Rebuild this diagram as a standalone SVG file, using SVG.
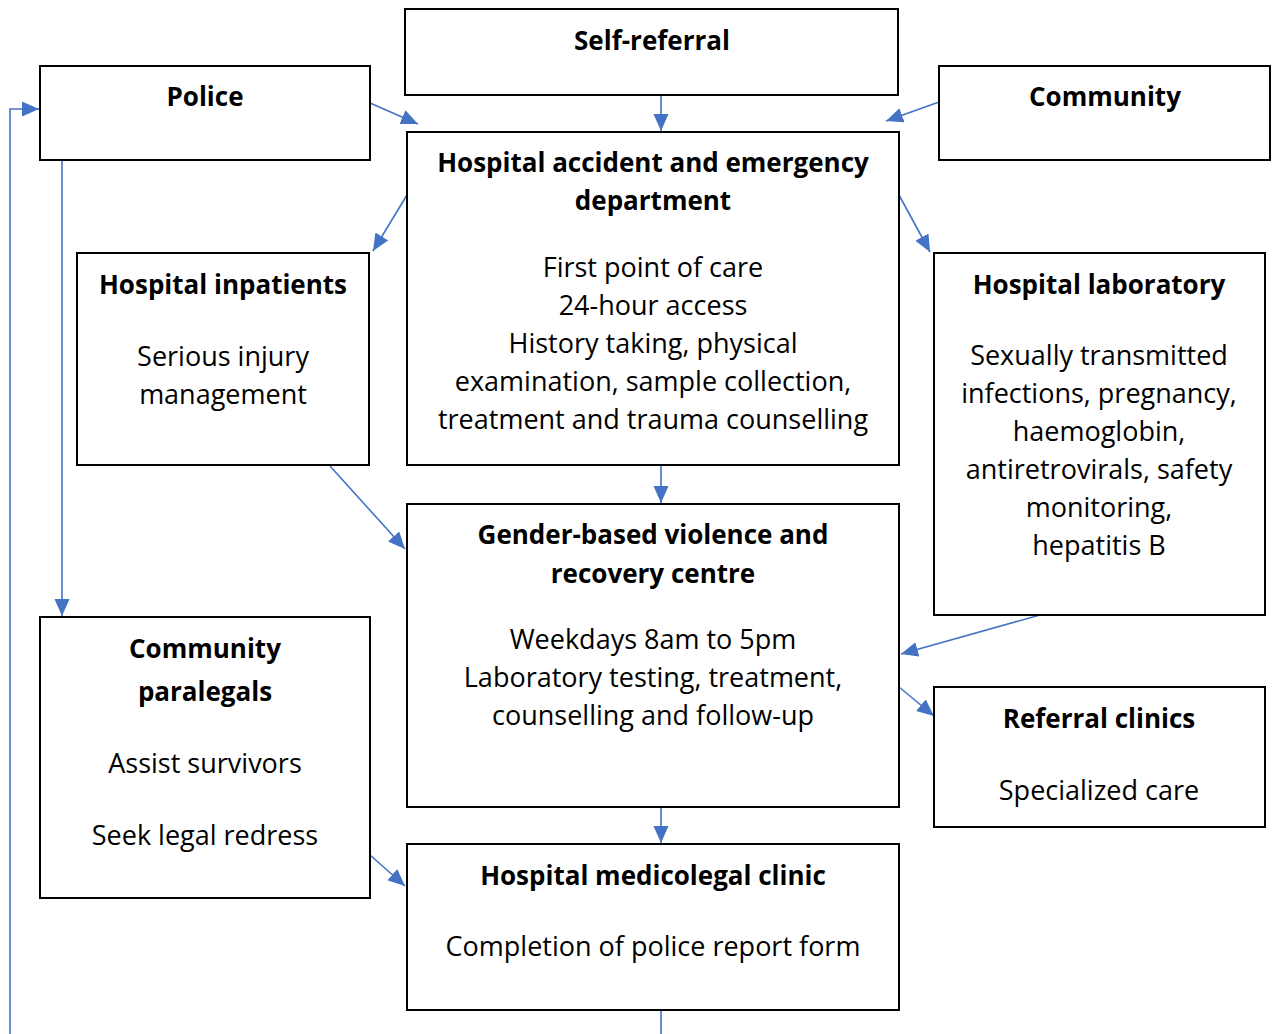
<svg xmlns="http://www.w3.org/2000/svg" width="1273" height="1034" viewBox="0 0 1273 1034">
<defs>
<style>
.box{fill:#fff;stroke:#000;stroke-width:2}
.t{font-family:"Open Sans","Liberation Sans",sans-serif;font-size:27px;fill:#000;text-anchor:middle}
.b{font-weight:bold;font-size:26px}
.c{fill:none;stroke:#4472C4;stroke-width:1.6}
</style>
<marker id="ah" markerUnits="userSpaceOnUse" markerWidth="20" markerHeight="16" refX="17" refY="7.5" orient="auto">
<path d="M0,0 L17,7.5 L0,15 Z" fill="#4472C4"/>
</marker>
</defs>
<rect width="1273" height="1034" fill="#fff"/>
<g id="connectors">
<line class="c" x1="661" y1="95" x2="661" y2="131" marker-end="url(#ah)"/>
<line class="c" x1="370" y1="103" x2="418" y2="124" marker-end="url(#ah)"/>
<line class="c" x1="939" y1="102" x2="886" y2="121" marker-end="url(#ah)"/>
<line class="c" x1="407" y1="195" x2="373" y2="251" marker-end="url(#ah)"/>
<line class="c" x1="899" y1="195" x2="930" y2="252" marker-end="url(#ah)"/>
<line class="c" x1="661" y1="465" x2="661" y2="503" marker-end="url(#ah)"/>
<line class="c" x1="62" y1="160" x2="62" y2="616" marker-end="url(#ah)"/>
<line class="c" x1="330" y1="466" x2="405" y2="549" marker-end="url(#ah)"/>
<line class="c" x1="1040" y1="615" x2="901" y2="654" marker-end="url(#ah)"/>
<line class="c" x1="899" y1="687" x2="934" y2="716" marker-end="url(#ah)"/>
<line class="c" x1="661" y1="807" x2="661" y2="843" marker-end="url(#ah)"/>
<line class="c" x1="370" y1="855" x2="405" y2="886" marker-end="url(#ah)"/>
<line class="c" x1="661" y1="1010" x2="661" y2="1034"/>
<polyline class="c" points="10,1034 10,109 39,109" marker-end="url(#ah)"/>
</g>
<g id="self-referral">
<rect class="box" x="405" y="9" width="493" height="86"/>
<text class="t b" x="652" y="50">Self-referral</text>
</g>
<g id="police">
<rect class="box" x="40" y="66" width="330" height="94"/>
<text class="t b" x="205" y="106">Police</text>
</g>
<g id="community">
<rect class="box" x="939" y="66" width="331" height="94"/>
<text class="t b" x="1105" y="106">Community</text>
</g>
<g id="emergency">
<rect class="box" x="407" y="132" width="492" height="333"/>
<text class="t b" x="653" y="172">Hospital accident and emergency</text>
<text class="t b" x="653" y="210">department</text>
<text class="t" x="653" y="277">First point of care</text>
<text class="t" x="653" y="315">24-hour access</text>
<text class="t" x="653" y="353">History taking, physical</text>
<text class="t" x="653" y="391">examination, sample collection,</text>
<text class="t" x="653" y="429">treatment and trauma counselling</text>
</g>
<g id="inpatients">
<rect class="box" x="77" y="253" width="292" height="212"/>
<text class="t b" x="223" y="294">Hospital inpatients</text>
<text class="t" x="223" y="366">Serious injury</text>
<text class="t" x="223" y="404">management</text>
</g>
<g id="laboratory">
<rect class="box" x="934" y="253" width="331" height="362"/>
<text class="t b" x="1099" y="294">Hospital laboratory</text>
<text class="t" x="1099" y="365">Sexually transmitted</text>
<text class="t" x="1099" y="403">infections, pregnancy,</text>
<text class="t" x="1099" y="441">haemoglobin,</text>
<text class="t" x="1099" y="479">antiretrovirals, safety</text>
<text class="t" x="1099" y="517">monitoring,</text>
<text class="t" x="1099" y="555">hepatitis B</text>
</g>
<g id="gbv-centre">
<rect class="box" x="407" y="504" width="492" height="303"/>
<text class="t b" x="653" y="544">Gender-based violence and</text>
<text class="t b" x="653" y="583">recovery centre</text>
<text class="t" x="653" y="649">Weekdays 8am to 5pm</text>
<text class="t" x="653" y="687">Laboratory testing, treatment,</text>
<text class="t" x="653" y="725">counselling and follow-up</text>
</g>
<g id="paralegals">
<rect class="box" x="40" y="617" width="330" height="281"/>
<text class="t b" x="205" y="658">Community</text>
<text class="t b" x="205" y="701">paralegals</text>
<text class="t" x="205" y="773">Assist survivors</text>
<text class="t" x="205" y="845">Seek legal redress</text>
</g>
<g id="referral-clinics">
<rect class="box" x="934" y="687" width="331" height="140"/>
<text class="t b" x="1099" y="728">Referral clinics</text>
<text class="t" x="1099" y="800">Specialized care</text>
</g>
<g id="medicolegal">
<rect class="box" x="407" y="844" width="492" height="166"/>
<text class="t b" x="653" y="885">Hospital medicolegal clinic</text>
<text class="t" x="653" y="956">Completion of police report form</text>
</g>
</svg>
